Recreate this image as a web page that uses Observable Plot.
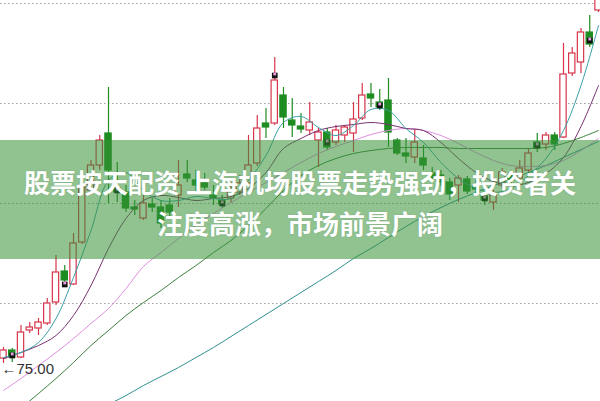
<!DOCTYPE html>
<html>
<head>
<meta charset="utf-8">
<script src="https://cdn.jsdelivr.net/npm/d3@7"></script>
<script src="https://cdn.jsdelivr.net/npm/@observablehq/plot@0.6"></script>
<style>
  html, body { margin: 0; padding: 0; background: #fff; }
  #wrap { position: relative; width: 600px; height: 401px; overflow: hidden; }
  #banner { position: absolute; left: 0; top: 140px; width: 600px; height: 119px; background: rgba(55,145,55,0.55); }
  #title { position: absolute; left: 0; top: 161px; width: 600px; text-align: center; color: #fff;
           font-family: "Noto Sans CJK SC", "Noto Sans", sans-serif; font-weight: 700; font-size: 26px; line-height: 41px;
           text-shadow: 0 0 2px rgba(0,0,0,0.12); }
</style>
</head>
<body>
<div id="wrap">
  <div id="chart"></div>
  <div id="banner"></div>
  <div id="title">股票按天配资 上海机场股票走势强劲，投资者关<br>注度高涨，市场前景广阔</div>
</div>
<script>
// Daily candles (price)
const open = [75.25,75.65,75.30,76.65,76.75,77.00,78.05,79.60,78.95,81.05,
  83.65,84.90,86.50,83.75,83.55,82.80,82.25,82.95,82.80,82.90,
  83.40,84.45,84.15,84.00,83.40,83.15,83.25,83.55,84.00,85.00,
  87.00,87.00,88.40,87.15,86.85,86.65,86.15,86.55,86.05,86.40,
  86.50,87.25,88.45,88.05,88.15,86.15,85.50,85.30,85.25,84.50,
  84.40,84.05,83.90,84.20,83.80,83.35,83.05,83.90,84.40,84.25,
  84.65,86.05,85.95,86.40,86.30,89.50,90.05,91.55,92.65];
const close = [75.65,75.30,76.55,76.80,77.05,78.00,79.55,79.15,81.00,83.90,
  84.90,86.15,84.65,83.55,82.75,82.70,83.00,82.80,82.00,82.55,
  83.90,84.25,83.90,83.80,83.25,82.95,83.65,84.00,84.90,86.75,
  86.80,89.15,87.30,86.90,86.70,87.05,86.55,85.80,86.65,86.80,
  87.20,88.40,88.25,87.80,86.55,85.50,85.35,86.05,84.90,84.30,
  84.05,83.45,84.25,83.60,83.70,83.15,83.45,84.55,84.15,84.75,
  85.50,85.75,86.40,85.95,89.45,90.50,91.55,90.95,93.65];
const high = [75.80,75.75,76.90,77.05,77.25,78.25,80.40,79.90,81.50,84.40,
  85.15,86.40,88.80,85.05,83.90,83.15,83.40,83.25,83.15,83.25,
  85.15,85.15,84.65,84.50,83.90,83.40,84.05,84.40,86.40,87.40,
  87.75,90.30,88.80,88.25,87.50,88.05,86.75,86.75,86.90,86.90,
  88.05,89.00,89.00,88.70,89.25,86.25,86.25,86.70,85.90,84.80,
  84.65,84.25,84.40,84.35,84.15,83.55,83.65,84.75,84.65,85.15,
  85.75,86.50,86.55,86.55,91.00,90.80,91.75,92.40,94.15];
const low = [75.00,75.05,75.25,76.50,76.40,76.90,77.90,78.80,78.90,80.95,
  83.40,84.65,83.00,83.05,82.55,82.40,82.15,82.55,81.75,82.35,
  82.80,84.05,83.55,83.65,82.90,82.75,83.00,83.40,83.85,84.85,
  86.25,86.90,86.75,86.30,86.50,86.40,84.80,85.65,85.90,86.05,
  85.55,87.15,87.80,87.65,85.80,85.40,85.00,85.00,84.65,84.15,
  83.85,83.15,83.05,83.45,83.40,82.90,82.65,83.75,83.90,84.05,
  84.40,85.55,85.65,85.65,86.25,89.35,89.50,90.80,92.55];

// Moving averages read at every second candle
const maIdx = [0,2,4,6,8,10,12,14,16,18,20,22,24,26,28,30,32,34,36,38,40,42,44,46,48,50,52,54,56,58,60,62,64,66,68];
const ma5 = [75.30,75.55,76.05,77.25,79.30,81.65,84.15,84.55,83.65,83.15,83.15,83.35,83.25,83.25,84.15,85.40,87.05,87.35,86.80,86.40,86.90,87.70,87.65,86.75,86.05,85.05,84.25,83.75,83.55,83.75,84.40,85.25,86.65,88.90,91.90];
const ma10 = [75.25,75.55,75.90,76.40,77.40,78.90,80.75,82.25,83.15,83.40,83.30,83.15,83.25,83.35,83.75,84.55,85.75,86.25,86.65,86.85,86.95,87.05,86.95,86.75,86.65,86.05,85.25,84.55,84.10,83.90,84.05,84.50,85.30,86.85,88.90];
const ma20 = [73.65,74.25,74.90,75.55,76.25,77.00,77.75,78.75,79.85,80.55,81.25,81.90,82.50,83.05,83.55,84.05,84.55,85.05,85.50,85.85,86.15,86.45,86.65,86.75,86.65,86.40,86.00,85.55,85.15,84.90,84.85,84.90,85.15,85.65,86.25];
const ma30 = [71.90,72.75,73.50,74.25,75.05,75.90,76.65,77.40,78.05,78.65,79.30,79.90,80.55,81.15,81.90,82.75,83.65,84.40,84.90,85.25,85.50,85.65,85.75,85.80,85.80,85.80,85.75,85.75,85.75,85.75,85.75,85.80,86.00,86.30,86.65];
const ma60 = [70.20,70.65,71.10,71.55,72.05,72.50,72.95,73.40,73.90,74.35,74.80,75.30,75.80,76.35,76.90,77.45,78.00,78.55,79.10,79.65,80.25,80.75,81.30,81.85,82.35,82.80,83.20,83.55,83.90,84.20,84.55,84.90,85.30,85.70,86.10];

// Signal markers (candle index, price)
const markIdx = [1,7,13,25,31,37,43,55,61,67];
const markVal = [75.40,78.95,83.65,83.00,89.40,86.05,87.90,83.25,85.90,91.15];

// Dotted grid levels
const gridLevels = [78, 83, 88, 93];

const RED = "#d8344a", GREEN = "#1f8c22";
const candles = open.map((o, i) => ({i, open: o, close: close[i], high: high[i], low: low[i], up: close[i] >= o}));
const maData = maIdx.map((i, k) => ({i, ma5: ma5[k], ma10: ma10[k], ma20: ma20[k], ma30: ma30[k], ma60: ma60[k]}));
const marks = markIdx.map((i, k) => ({i, v: markVal[k]}));
const minLow = d3.min(low);
const lowPoint = [{i: low.indexOf(minLow), v: minLow, label: "←" + minLow.toFixed(2)}];

const lineOpt = (key, color) => Plot.line(maData, {x: "i", y: key, stroke: color, strokeWidth: 1, curve: "catmull-rom", clip: true});

const chart = Plot.plot({
  width: 600, height: 401, margin: 0,
  style: {background: "#fff", overflow: "hidden"},
  x: {domain: [-0.343, 68.229], axis: null},
  y: {domain: [73.1, 93.15], axis: null},
  marks: [
    Plot.ruleY(gridLevels, {stroke: "#a0a0a0", strokeWidth: 1.2, strokeDasharray: "1.5,2.5"}),
    Plot.ruleX(candles, {x: "i", y1: "low", y2: "high", stroke: d => d.up ? RED : GREEN, strokeWidth: 1.2, clip: true}),
    Plot.rect(candles, {x1: d => d.i - 0.36, x2: d => d.i + 0.36, y1: "open", y2: "close",
      fill: d => d.up ? "#ffffff" : GREEN, stroke: d => d.up ? RED : GREEN, strokeWidth: 1.2, clip: true}),
    lineOpt("ma60", "#2f8f90"),
    lineOpt("ma30", "#3c7f3c"),
    lineOpt("ma20", "#e08ee0"),
    lineOpt("ma10", "#7a2f70"),
    lineOpt("ma5", "#3a9fa8"),
    Plot.dot(marks, {x: "i", y: "v", symbol: "square", r: 3.2, fill: "#111", stroke: null}),
    Plot.dot(marks, {x: "i", y: "v", symbol: "square", r: 1.6, fill: "#e79be0", stroke: null, dy: -1.5}),
    Plot.text(lowPoint, {x: "i", y: "v", text: "label", textAnchor: "start", dx: -2, dy: 6,
      fontSize: 15, fill: "#333", fontFamily: "Liberation Sans, Arial, sans-serif"})
  ]
});
document.getElementById("chart").appendChild(chart);
</script>
</body>
</html>
